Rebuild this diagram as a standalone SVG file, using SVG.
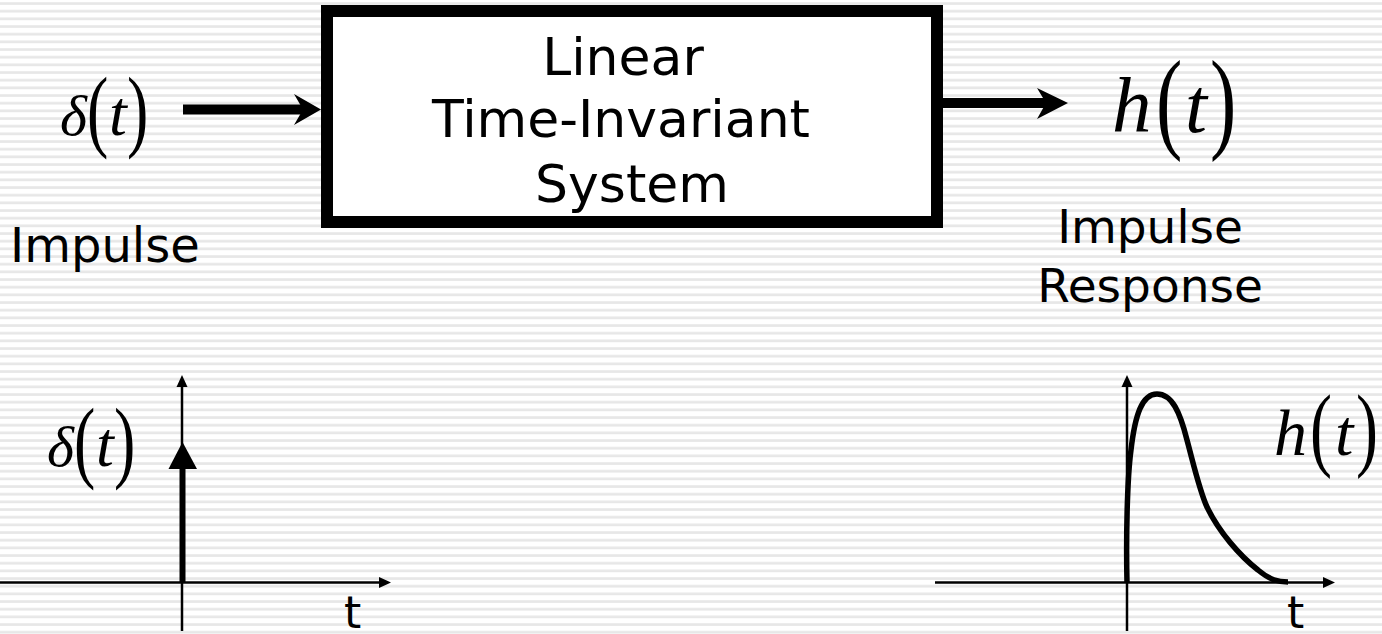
<svg xmlns="http://www.w3.org/2000/svg" width="1382" height="634" viewBox="0 0 1382 634">
  <defs>
    <pattern id="stripes" patternUnits="userSpaceOnUse" x="0" y="2" width="20" height="7.667">
      <rect x="0" y="0" width="20" height="1.3" fill="#ececec"/>
      <rect x="0" y="1.3" width="20" height="1.3" fill="#dedede"/>
    </pattern>
    <style>
      .sans { font-family: "DejaVu Sans", Verdana, sans-serif; fill: #000; }
      .mi { font-family: "Liberation Serif", "Times New Roman", serif; font-style: italic; fill: #000; }
      .mr { font-family: "Liberation Serif", "Times New Roman", serif; fill: #000; }
      .axis { stroke: #000; stroke-width: 2.5; fill: none; }
      .head { fill: #000; stroke: none; }
    </style>
  </defs>

  <rect x="0" y="0" width="1382" height="634" fill="#ffffff"/>
  <rect x="0" y="0" width="1382" height="634" fill="url(#stripes)"/>

  <g id="connectors">
    <rect x="183" y="104.5" width="121" height="10" fill="#000"/>
    <path class="head" d="M321,109.5 L294,94 L303,109.5 L294,125 Z"/>
    <rect x="942" y="98" width="106" height="10" fill="#000"/>
    <path class="head" d="M1068,103 L1037,88 L1046,103 L1037,119 Z"/>
  </g>

  <g id="lti-system">
    <rect x="327" y="11" width="610" height="211" fill="#ffffff" stroke="#000" stroke-width="12"/>
    <text class="sans" font-size="52" text-anchor="middle" x="623" y="75">Linear</text>
    <text class="sans" font-size="52" text-anchor="middle" x="621" y="137">Time-Invariant</text>
    <text class="sans" font-size="52" text-anchor="middle" x="632" y="202">System</text>
  </g>

  <g id="input-delta">
    <text class="mi" font-size="58" x="60" y="135">δ</text>
    <text class="mr" font-size="64" transform="translate(87,140) scale(1,1.41)">(</text>
    <text class="mi" font-size="64" x="109" y="135">t</text>
    <text class="mr" font-size="64" transform="translate(127,140) scale(1,1.41)">)</text>
  </g>

  <g id="impulse-label">
    <text class="sans" font-size="48" x="10" y="262">Impulse</text>
  </g>

  <g id="output-h">
    <text class="mi" font-size="79" x="1112" y="132">h</text>
    <text class="mr" font-size="79" transform="translate(1156,138) scale(1,1.41)">(</text>
    <text class="mi" font-size="79" x="1185" y="132">t</text>
    <text class="mr" font-size="79" transform="translate(1210,138) scale(1,1.41)">)</text>
  </g>

  <g id="impulse-response-label">
    <text class="sans" font-size="47" text-anchor="middle" x="1150" y="243">Impulse</text>
    <text class="sans" font-size="47" text-anchor="middle" x="1150" y="302">Response</text>
  </g>

  <g id="plot-impulse">
    <line class="axis" x1="0" y1="582.5" x2="382" y2="582.5"/>
    <path class="head" d="M391,582.5 L379,577 L379,588 Z"/>
    <line class="axis" x1="182" y1="631" x2="182" y2="385"/>
    <path class="head" d="M182,375 L176.5,387 L187.5,387 Z"/>
    <line x1="182.5" y1="583" x2="182.5" y2="466" stroke="#000" stroke-width="6"/>
    <path class="head" d="M182.5,442 L197,469 L168.5,469 Z"/>
    <text class="mi" font-size="58" x="47" y="466">δ</text>
    <text class="mr" font-size="64" transform="translate(74,471) scale(1,1.41)">(</text>
    <text class="mi" font-size="64" x="96" y="466">t</text>
    <text class="mr" font-size="64" transform="translate(114,471) scale(1,1.41)">)</text>
    <text class="sans" font-size="44" x="344" y="628">t</text>
  </g>

  <g id="plot-response">
    <line class="axis" x1="935" y1="582.5" x2="1326" y2="582.5"/>
    <path class="head" d="M1335,582.5 L1323,577 L1323,588 Z"/>
    <line class="axis" x1="1127" y1="631" x2="1127" y2="385"/>
    <path class="head" d="M1127,375 L1121.5,387 L1132.5,387 Z"/>
    <path d="M1127,583 C1126,540 1127,480 1131,450 C1135,415 1142,394 1157,394 C1172,394 1180,412 1187,440 C1195,470 1200,492 1207,507 C1219,532 1240,556 1258,570 C1270,580 1278,582 1288,582" fill="none" stroke="#000" stroke-width="5.5"/>
    <text class="mi" font-size="66" x="1274" y="455">h</text>
    <text class="mr" font-size="66" transform="translate(1310,458.5) scale(1,1.41)">(</text>
    <text class="mi" font-size="66" x="1335" y="455">t</text>
    <text class="mr" font-size="66" transform="translate(1356,458.5) scale(1,1.41)">)</text>
    <text class="sans" font-size="44" x="1287" y="628">t</text>
  </g>
</svg>
